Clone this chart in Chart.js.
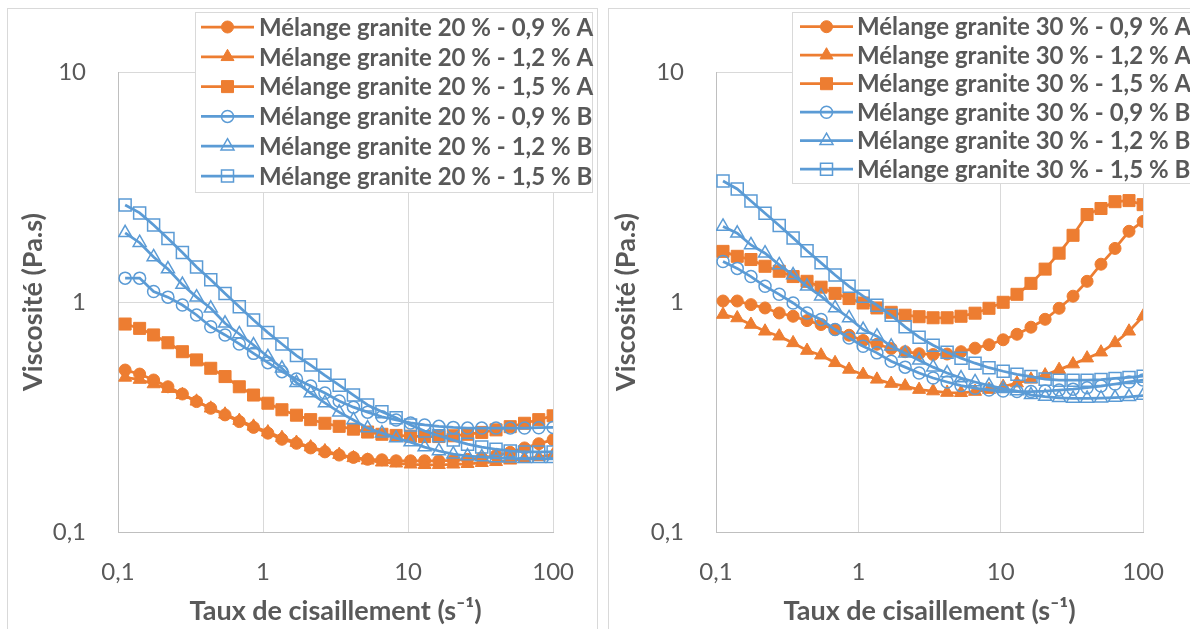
<!DOCTYPE html>
<html>
<head>
<meta charset="utf-8">
<script src="https://cdn.jsdelivr.net/npm/chart.js"></script>
<style>
	html, body { margin: 0; padding: 0; background: #fff; overflow: hidden; }
	.panel { position: absolute; top: 8px; height: 640px; border: 1px solid #d9d9d9; box-sizing: border-box; }
	canvas { position: absolute; top: 0; }
</style>
</head>
<body>
<div class="panel" style="left:7px; width:591px;"></div>
<div class="panel" style="left:608px; width:600px;"></div>
<canvas id="chart20" width="600" height="629" style="left:0"></canvas>
<canvas id="chart30" width="590" height="629" style="left:600px"></canvas>
<script>
// shear rates (s-1), same for every series
const shearRates = [0.112, 0.141, 0.176, 0.221, 0.278, 0.348, 0.436, 0.547, 0.686, 0.860,
	1.08, 1.35, 1.70, 2.13, 2.67, 3.35, 4.20, 5.26, 6.60, 8.27,
	10.4, 13.0, 16.3, 20.5, 25.7, 32.2, 40.4, 50.6, 63.5, 79.6, 100];

const xTickValues = [0.1, 1, 10, 100];
const xTickLabels = ['0,1', '1', '10', '100'];
const yTickValues = [0.1, 1, 10];
const yTickLabels = ['0,1', '1', '10'];

const seriesNames = ['0,9 % A', '1,2 % A', '1,5 % A', '0,9 % B', '1,2 % B', '1,5 % B'];

// granite 20 %
const g20_09A = [0.506, 0.486, 0.458, 0.428, 0.398, 0.369, 0.345, 0.323, 0.302, 0.285,
	0.269, 0.253, 0.243, 0.232, 0.223, 0.216, 0.211, 0.207, 0.206, 0.204,
	0.204, 0.204, 0.204, 0.205, 0.207, 0.210, 0.215, 0.222, 0.232, 0.242, 0.252];
const g20_12A = [0.470, 0.460, 0.440, 0.420, 0.395, 0.370, 0.345, 0.325, 0.305, 0.288,
	0.272, 0.257, 0.245, 0.234, 0.225, 0.217, 0.210, 0.205, 0.201, 0.199,
	0.197, 0.196, 0.196, 0.197, 0.198, 0.200, 0.202, 0.205, 0.208, 0.212, 0.217];
const g20_15A = [0.802, 0.768, 0.719, 0.665, 0.608, 0.560, 0.515, 0.474, 0.428, 0.394,
	0.363, 0.340, 0.322, 0.308, 0.297, 0.288, 0.280, 0.272, 0.266, 0.263,
	0.261, 0.260, 0.260, 0.262, 0.266, 0.271, 0.278, 0.287, 0.297, 0.308, 0.320];
const g20_09B = [1.27, 1.27, 1.11, 1.05, 0.970, 0.878, 0.781, 0.719, 0.657, 0.598,
	0.545, 0.498, 0.463, 0.431, 0.402, 0.371, 0.349, 0.332, 0.317, 0.307,
	0.298, 0.292, 0.288, 0.285, 0.283, 0.283, 0.283, 0.283, 0.283, 0.284, 0.285];
const g20_12B = [2.00, 1.81, 1.57, 1.39, 1.19, 1.05, 0.939, 0.808, 0.726, 0.650,
	0.578, 0.515, 0.446, 0.402, 0.364, 0.332, 0.307, 0.283, 0.269, 0.256,
	0.246, 0.234, 0.225, 0.218, 0.214, 0.212, 0.210, 0.209, 0.208, 0.208, 0.208];
const g20_15B = [2.64, 2.44, 2.16, 1.89, 1.64, 1.42, 1.25, 1.09, 0.954, 0.835,
	0.736, 0.657, 0.585, 0.532, 0.480, 0.435, 0.394, 0.357, 0.333, 0.314,
	0.292, 0.275, 0.262, 0.251, 0.241, 0.234, 0.229, 0.225, 0.223, 0.223, 0.223];

// granite 30 %
const g30_09A = [1.01, 1.01, 0.974, 0.942, 0.896, 0.867, 0.830, 0.798, 0.759, 0.717,
	0.680, 0.655, 0.628, 0.608, 0.596, 0.591, 0.594, 0.608, 0.630, 0.652,
	0.685, 0.724, 0.777, 0.841, 0.939, 1.06, 1.23, 1.46, 1.71, 2.03, 2.24];
const g30_12A = [0.882, 0.852, 0.798, 0.746, 0.710, 0.664, 0.615, 0.587, 0.544, 0.509,
	0.484, 0.461, 0.442, 0.431, 0.416, 0.410, 0.404, 0.403, 0.408, 0.416,
	0.429, 0.444, 0.461, 0.481, 0.508, 0.537, 0.570, 0.605, 0.664, 0.746, 0.867];
const g30_15A = [1.66, 1.58, 1.53, 1.43, 1.36, 1.29, 1.23, 1.16, 1.09, 1.035,
	0.990, 0.942, 0.902, 0.876, 0.863, 0.854, 0.854, 0.867, 0.894, 0.939,
	0.997, 1.08, 1.205, 1.39, 1.63, 1.95, 2.40, 2.55, 2.73, 2.76, 2.65];
const g30_09B = [1.50, 1.40, 1.29, 1.17, 1.08, 0.990, 0.896, 0.839, 0.759, 0.698,
	0.642, 0.601, 0.553, 0.521, 0.491, 0.467, 0.449, 0.433, 0.422, 0.414,
	0.410, 0.408, 0.408, 0.410, 0.414, 0.418, 0.424, 0.431, 0.440, 0.449, 0.458];
const g30_12B = [2.13, 1.99, 1.77, 1.63, 1.45, 1.31, 1.17, 1.06, 0.942, 0.852,
	0.759, 0.710, 0.642, 0.599, 0.558, 0.521, 0.491, 0.467, 0.449, 0.433,
	0.420, 0.410, 0.395, 0.388, 0.383, 0.381, 0.381, 0.382, 0.384, 0.387, 0.392];
const g30_15B = [3.36, 3.10, 2.75, 2.43, 2.15, 1.90, 1.67, 1.48, 1.31, 1.17,
	1.06, 0.968, 0.876, 0.780, 0.703, 0.649, 0.605, 0.570, 0.542, 0.518,
	0.500, 0.485, 0.474, 0.462, 0.457, 0.457, 0.457, 0.460, 0.465, 0.470, 0.476];

const ORANGE = '#ED7D31';
const BLUE = '#5B9BD5';
const TEXT = '#595959';
const GRID = '#D9D9D9';

const styles = [
	{ color: ORANGE, shape: 'circle', r: 6, filled: true },
	{ color: ORANGE, shape: 'triangle', r: 7.5, filled: true },
	{ color: ORANGE, shape: 'rect', r: 8.5, filled: true },
	{ color: BLUE, shape: 'circle', r: 6, filled: false },
	{ color: BLUE, shape: 'triangle', r: 7.5, filled: false },
	{ color: BLUE, shape: 'rect', r: 8.5, filled: false },
];

function makeDatasets(pct, series) {
	return series.map((ys, i) => {
		const s = styles[i];
		return {
			label: `Mélange granite ${pct} % - ${seriesNames[i]}`,
			data: shearRates.map((x, k) => ({ x: x, y: ys[k] })),
			borderColor: s.color,
			backgroundColor: s.color,
			borderWidth: 2.75,
			pointStyle: s.shape,
			pointRadius: s.r,
			pointBackgroundColor: s.filled ? s.color : 'rgba(0,0,0,0)',
			pointBorderColor: s.color,
			pointBorderWidth: s.filled ? 1 : 1.5,
			tension: 0,
			order: 6 - i, // later series on top, like the spreadsheet
		};
	});
}

function drawMarker(ctx, s, x, y) {
	ctx.beginPath();
	if (s.shape === 'circle') {
		ctx.arc(x, y, s.r, 0, Math.PI * 2);
	} else if (s.shape === 'triangle') {
		for (let j = 0; j < 3; j++) {
			const a = j * 2 * Math.PI / 3;
			const px = x + Math.sin(a) * s.r, py = y - Math.cos(a) * s.r;
			if (j === 0) ctx.moveTo(px, py); else ctx.lineTo(px, py);
		}
		ctx.closePath();
	} else {
		const h = s.r * Math.SQRT1_2;
		ctx.rect(x - h, y - h, 2 * h, 2 * h);
	}
	if (s.filled) {
		ctx.fillStyle = s.color;
		ctx.fill();
	}
	ctx.lineWidth = s.filled ? 1 : 1.5;
	ctx.strokeStyle = s.color;
	ctx.stroke();
}

// legend drawn as a box over the plot, top right
const boxLegend = {
	id: 'boxLegend',
	afterDraw(chart, args, opts) {
		const ctx = chart.ctx;
		ctx.save();
		ctx.fillStyle = '#fff';
		ctx.fillRect(opts.x, opts.y, opts.w, opts.h);
		ctx.strokeStyle = GRID;
		ctx.lineWidth = 1;
		ctx.strokeRect(opts.x + 0.5, opts.y + 0.5, opts.w, opts.h);
		chart.data.datasets.forEach((ds, i) => {
			const y = opts.rowY + i * opts.rowH;
			ctx.beginPath();
			ctx.moveTo(opts.lineX1, y);
			ctx.lineTo(opts.lineX2, y);
			ctx.strokeStyle = ds.borderColor;
			ctx.lineWidth = ds.borderWidth;
			ctx.stroke();
			drawMarker(ctx, styles[i], (opts.lineX1 + opts.lineX2) / 2, y);
			ctx.fillStyle = TEXT;
			ctx.font = 'bold 24px Lato';
			ctx.textBaseline = 'middle';
			ctx.textAlign = 'left';
			ctx.fillText(ds.label, opts.textX, y + 1);
		});
		ctx.restore();
	}
};

function makeChart(canvasId, pct, series, geo) {
	const ctx = document.getElementById(canvasId).getContext('2d');
	return new Chart(ctx, {
		type: 'line',
		data: { datasets: makeDatasets(pct, series) },
		plugins: [boxLegend],
		options: {
			responsive: false,
			animation: false,
			devicePixelRatio: 1,
			layout: { padding: { top: geo.top, right: geo.right, left: 0, bottom: 0 } },
			plugins: {
				legend: { display: false },
				tooltip: { enabled: false },
				boxLegend: geo.legend,
			},
			scales: {
				x: {
					type: 'logarithmic',
					min: 0.1,
					max: 100,
					afterBuildTicks: (scale) => { scale.ticks = xTickValues.map(v => ({ value: v })); },
					afterFit: (scale) => { scale.height = geo.xAxisH; },
					ticks: {
						autoSkip: false,
						maxRotation: 0,
						padding: 26,
						color: TEXT,
						font: { family: 'Lato', size: 24 },
						callback: (v, i) => xTickLabels[i],
					},
					grid: { color: GRID, lineWidth: 1, drawTicks: false },
					border: { color: '#BFBFBF', width: 1 },
					title: {
						display: true,
						text: 'Taux de cisaillement (s⁻¹)',
						color: TEXT,
						font: { family: 'Lato', size: 27, weight: 'bold' },
						padding: { top: 2, bottom: 2 },
					},
				},
				y: {
					type: 'logarithmic',
					min: 0.1,
					max: 10,
					afterBuildTicks: (scale) => { scale.ticks = yTickValues.map(v => ({ value: v })); },
					afterFit: (scale) => { scale.width = geo.yAxisW; },
					ticks: {
						autoSkip: false,
						padding: 32,
						color: TEXT,
						font: { family: 'Lato', size: 24 },
						callback: (v, i) => yTickLabels[i],
					},
					grid: { color: GRID, lineWidth: 1, drawTicks: false },
					border: { color: '#BFBFBF', width: 1 },
					title: {
						display: true,
						text: 'Viscosité (Pa.s)',
						color: TEXT,
						font: { family: 'Lato', size: 27, weight: 'bold' },
						padding: { top: geo.yTitlePad, bottom: geo.yTitlePad },
					},
				},
			},
		},
	});
}

makeChart('chart20', 20, [g20_09A, g20_12A, g20_15A, g20_09B, g20_12B, g20_15B], {
	top: 72, right: 43, xAxisH: 97, yAxisW: 118, yTitlePad: 17,
	legend: { x: 195, y: 12, w: 397, h: 180, rowY: 27, rowH: 29.8, lineX1: 201, lineX2: 254, textX: 259 },
});

makeChart('chart30', 30, [g30_09A, g30_12A, g30_15A, g30_09B, g30_12B, g30_15B], {
	top: 72, right: 35, xAxisH: 97, yAxisW: 116, yTitlePad: 10,
	legend: { x: 192, y: 12, w: 420, h: 171, rowY: 26.7, rowH: 28.5, lineX1: 200, lineX2: 253, textX: 257 },
});
</script>
</body>
</html>
